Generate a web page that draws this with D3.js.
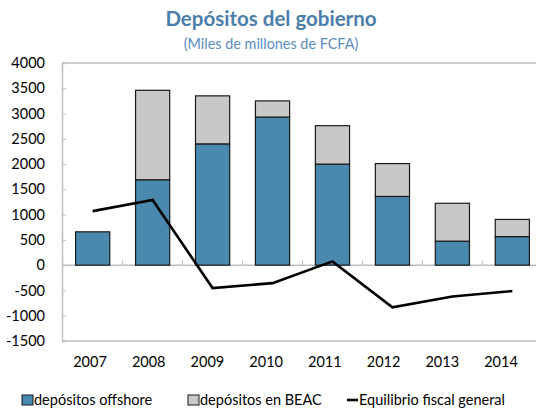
<!DOCTYPE html>
<html>
<head>
<meta charset="utf-8">
<script src="https://cdn.jsdelivr.net/npm/d3@7"></script>
<style>
  body { margin: 0; background: #fff; }
  svg { font-family: Lato, "Open Sans", sans-serif; }
</style>
</head>
<body>
<div id="chart"></div>
<script>
// data
var years = ['2007', '2008', '2009', '2010', '2011', '2012', '2013', '2014'];
var offshore = [660, 1690, 2400, 2930, 2000, 1360, 475, 565];
var beac = [0, 1770, 950, 320, 760, 650, 750, 340];
var equilibrio = [1070, 1290, -453, -355, 75, -835, -620, -512];
var yTicks = [-1500, -1000, -500, 0, 500, 1000, 1500, 2000, 2500, 3000, 3500, 4000];

var width = 536, height = 409;
var blue = '#4a89ae', gray = '#c8c8c8', frame = '#bfbfbf';

var svg = d3.select('#chart').append('svg')
	.attr('width', width)
	.attr('height', height);

var x = d3.scaleBand().domain(years).range([62.7, 542.3]).paddingInner(0.43).paddingOuter(0.215);
// the category labels sit on a slightly tighter spacing than the bars
var xl = d3.scalePoint().domain(years).range([90, 501]);
var y = d3.scaleLinear().domain([-1500, 4000]).range([341, 63]);

// title
svg.append('text')
	.attr('x', 271).attr('y', 26)
	.attr('text-anchor', 'middle')
	.style('font-size', '20.5px').style('font-weight', 'bold')
	.style('fill', '#4a7eab')
	.text('Depósitos del gobierno');
svg.append('text')
	.attr('x', 271).attr('y', 49)
	.attr('text-anchor', 'middle')
	.style('font-size', '14.4px')
	.style('fill', '#5b8cc0')
	.text('(Miles de millones de FCFA)');

// frame: top and bottom lines
svg.append('line').attr('x1', 62).attr('x2', width).attr('y1', y(4000)).attr('y2', y(4000))
	.style('stroke', frame).style('stroke-width', 1.5);
svg.append('line').attr('x1', 62).attr('x2', width).attr('y1', y(-1500)).attr('y2', y(-1500))
	.style('stroke', frame).style('stroke-width', 1.5);

// left axis
var yAxis = svg.append('g')
	.attr('transform', 'translate(62,0)')
	.call(d3.axisRight(y).tickValues(yTicks).tickSize(4).tickFormat(''));
yAxis.select('.domain').style('stroke', frame).style('stroke-width', 1.5);
yAxis.selectAll('.tick line').style('stroke', frame);

svg.selectAll('.ylab').data(yTicks).enter().append('text')
	.attr('class', 'ylab')
	.attr('x', 45).attr('y', function(d) { return y(d); })
	.attr('dy', '0.35em').attr('text-anchor', 'end')
	.style('font-size', '14.5px').style('fill', '#000')
	.text(function(d) { return d; });

// zero axis
svg.append('line').attr('x1', 62).attr('x2', width).attr('y1', y(0)).attr('y2', y(0))
	.style('stroke', frame).style('stroke-width', 1.5);
var step = x.step();
svg.selectAll('.xtick').data(years).enter().append('line')
	.attr('class', 'xtick')
	.attr('x1', function(d) { return x(d) + x.bandwidth() / 2 - step / 2; })
	.attr('x2', function(d) { return x(d) + x.bandwidth() / 2 - step / 2; })
	.attr('y1', y(0) - 5).attr('y2', y(0))
	.style('stroke', frame);

// stacked bars
var rows = years.map(function(d, i) { return {year: d, offshore: offshore[i], beac: beac[i]}; });
var series = d3.stack().keys(['offshore', 'beac'])(rows);
var color = {offshore: blue, beac: gray};

svg.selectAll('.serie').data(series).enter().append('g')
	.attr('class', 'serie')
	.style('fill', function(d) { return color[d.key]; })
	.selectAll('rect').data(function(d) { return d.filter(function(p) { return p[1] > p[0]; }); })
	.enter().append('rect')
	.attr('x', function(d) { return x(d.data.year); })
	.attr('width', x.bandwidth())
	.attr('y', function(d) { return y(d[1]); })
	.attr('height', function(d) { return y(d[0]) - y(d[1]); })
	.style('stroke', '#1a1a1a').style('stroke-width', 1.2);

// line
var line = d3.line()
	.x(function(d, i) { return x(years[i]) + x.bandwidth() / 2; })
	.y(function(d) { return y(d); });
svg.append('path').datum(equilibrio)
	.attr('d', line)
	.style('fill', 'none').style('stroke', '#000').style('stroke-width', 2.6);

// x labels
svg.selectAll('.xlab').data(years).enter().append('text')
	.attr('class', 'xlab')
	.attr('x', function(d) { return xl(d); })
	.attr('y', 367)
	.attr('text-anchor', 'middle')
	.style('font-size', '14.5px')
	.text(function(d) { return d; });

// legend
var legend = [
	{label: 'depósitos offshore', type: 'rect', fill: blue, x: 22},
	{label: 'depósitos en BEAC', type: 'rect', fill: gray, x: 188},
	{label: 'Equilibrio fiscal general', type: 'line', x: 347}
];
var lg = svg.selectAll('.legend').data(legend).enter().append('g')
	.attr('class', 'legend')
	.attr('transform', function(d) { return 'translate(' + d.x + ',400)'; });
lg.filter(function(d) { return d.type === 'rect'; }).append('rect')
	.attr('x', 0).attr('y', -5).attr('width', 11).attr('height', 10)
	.style('fill', function(d) { return d.fill; })
	.style('stroke', '#1a1a1a').style('stroke-width', 1);
lg.filter(function(d) { return d.type === 'line'; }).append('line')
	.attr('x1', 0).attr('x2', 11).attr('y1', 0).attr('y2', 0)
	.style('stroke', '#000').style('stroke-width', 2.6);
lg.append('text')
	.attr('x', 12).attr('y', 0).attr('dy', '0.35em')
	.style('font-size', '14.5px')
	.text(function(d) { return d.label; });
</script>
</body>
</html>
